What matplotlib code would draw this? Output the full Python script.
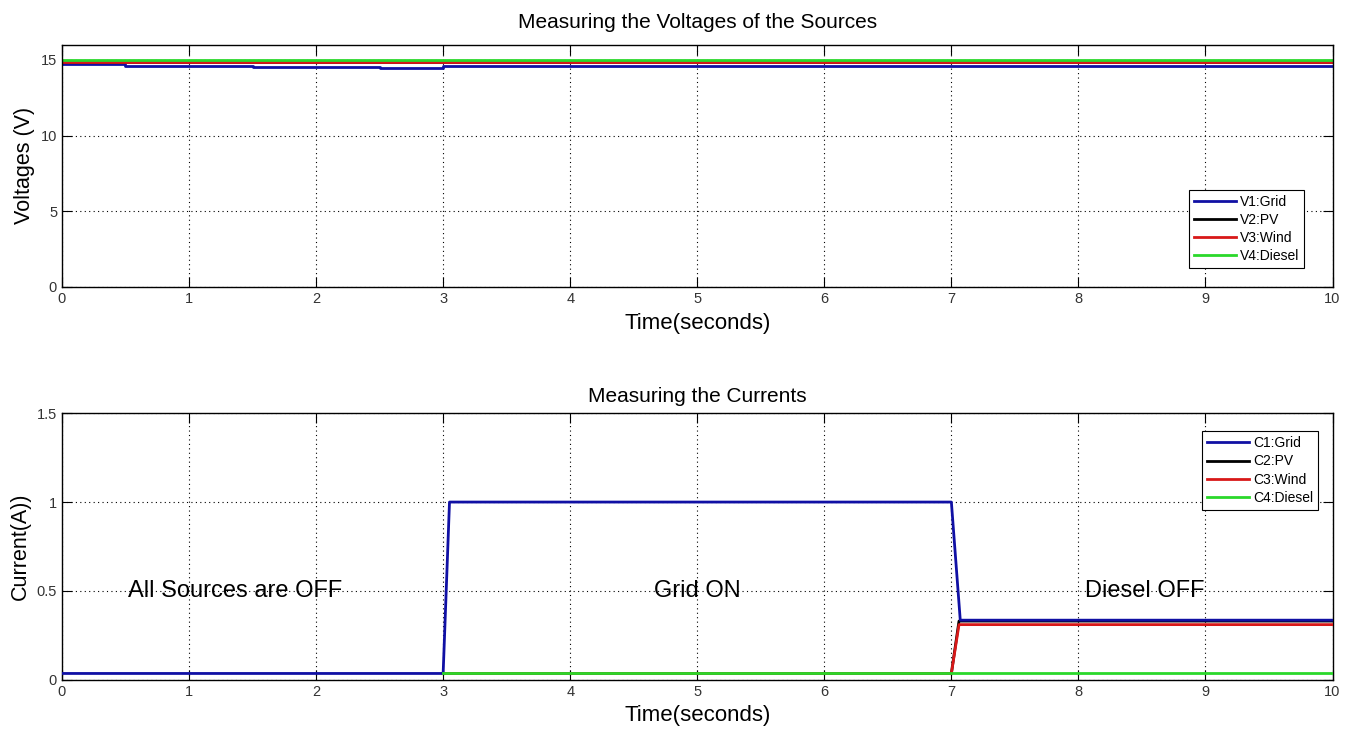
import numpy as np
import matplotlib.pyplot as plt

plt.rcParams['font.family'] = ['Liberation Sans', 'DejaVu Sans']

# voltage traces (time breakpoints, volts)
v1_t = [0, 0.5, 0.5, 1.5, 1.5, 2.5, 2.5, 3.0, 3.0, 10]
v1_v = [14.72, 14.72, 14.63, 14.63, 14.55, 14.55, 14.47, 14.47, 14.6, 14.6]
v2_t = [0, 10]
v2_v = [14.86, 14.86]
v3_t = [0, 10]
v3_v = [14.84, 14.84]
v4_t = [0, 10]
v4_v = [15.0, 15.0]

# current traces (time breakpoints, amps)
c1_t = [0, 3.0, 3.05, 7.0, 7.07, 10]
c1_v = [0.035, 0.035, 1.0, 1.0, 0.335, 0.335]
c2_t = [3.0, 7.0, 7.06, 10]
c2_v = [0.035, 0.035, 0.33, 0.33]
c3_t = [3.0, 7.0, 7.06, 10]
c3_v = [0.035, 0.035, 0.31, 0.31]
c4_t = [3.0, 10]
c4_v = [0.035, 0.035]

notes = ["All Sources are OFF", "Grid ON", "Diesel OFF"]
note_x = [1.36, 5.0, 8.52]
note_y = [0.5, 0.5, 0.5]

BLUE = "#1010a4"
BLACK = "#000000"
RED = "#d81818"
GREEN = "#2ad82a"

fig = plt.figure(figsize=(13.56, 7.34), dpi=100)
ax1 = fig.add_axes([0.0457, 0.609, 0.937, 0.330])
ax2 = fig.add_axes([0.0457, 0.074, 0.937, 0.363])


def style(ax):
    ax.set_xlim(0, 10)
    ax.set_xticks(range(0, 11))
    ax.grid(True, linestyle=(0, (1, 3)), color="black", linewidth=0.8)
    ax.tick_params(direction="in", length=7, top=True, right=True,
                   labelsize=10.5, labelcolor="#333333")
    for s in ax.spines.values():
        s.set_linewidth(1.0)
    ax.set_xlabel("Time(seconds)", fontsize=16, labelpad=5)


lw = 2.0
ax1.plot(v1_t, v1_v, color=BLUE, lw=lw, label="V1:Grid")
ax1.plot(v2_t, v2_v, color=BLACK, lw=lw, label="V2:PV")
ax1.plot(v3_t, v3_v, color=RED, lw=lw, label="V3:Wind")
ax1.plot(v4_t, v4_v, color=GREEN, lw=lw, label="V4:Diesel")
ax1.set_ylim(0, 16)
ax1.set_yticks([0, 5, 10, 15])
style(ax1)
ax1.set_ylabel("Voltages (V)", fontsize=15.5)
ax1.set_title("Measuring the Voltages of the Sources", fontsize=15, pad=12)
leg1 = ax1.legend(loc="lower right", bbox_to_anchor=(0.983, 0.05), fontsize=10,
                  fancybox=False, edgecolor="black", framealpha=1,
                  handlelength=3.0, borderpad=0.35, labelspacing=0.3,
                  handletextpad=0.3)
leg1.get_frame().set_linewidth(0.8)

ax2.plot(c1_t, c1_v, color=BLUE, lw=lw, label="C1:Grid", zorder=5)
ax2.plot(c2_t, c2_v, color=BLACK, lw=lw, label="C2:PV", zorder=3)
ax2.plot(c3_t, c3_v, color=RED, lw=lw, label="C3:Wind", zorder=4)
ax2.plot(c4_t, c4_v, color=GREEN, lw=lw, label="C4:Diesel", zorder=6)
ax2.set_ylim(0, 1.5)
ax2.set_yticks([0, 0.5, 1, 1.5])
ax2.set_yticklabels(["0", "0.5", "1", "1.5"])
style(ax2)
ax2.set_ylabel("Current(A))", fontsize=15.5)
ax2.set_title("Measuring the Currents", fontsize=15, pad=8)
leg2 = ax2.legend(loc="upper right", bbox_to_anchor=(0.994, 0.958), fontsize=10,
                  fancybox=False, edgecolor="black", framealpha=1,
                  handlelength=3.0, borderpad=0.35, labelspacing=0.3,
                  handletextpad=0.3)
leg2.get_frame().set_linewidth(0.8)

for txt, x, y in zip(notes, note_x, note_y):
    ax2.text(x, y, txt, fontsize=17, ha="center", va="center")

fig.savefig("out.png", dpi=100)
